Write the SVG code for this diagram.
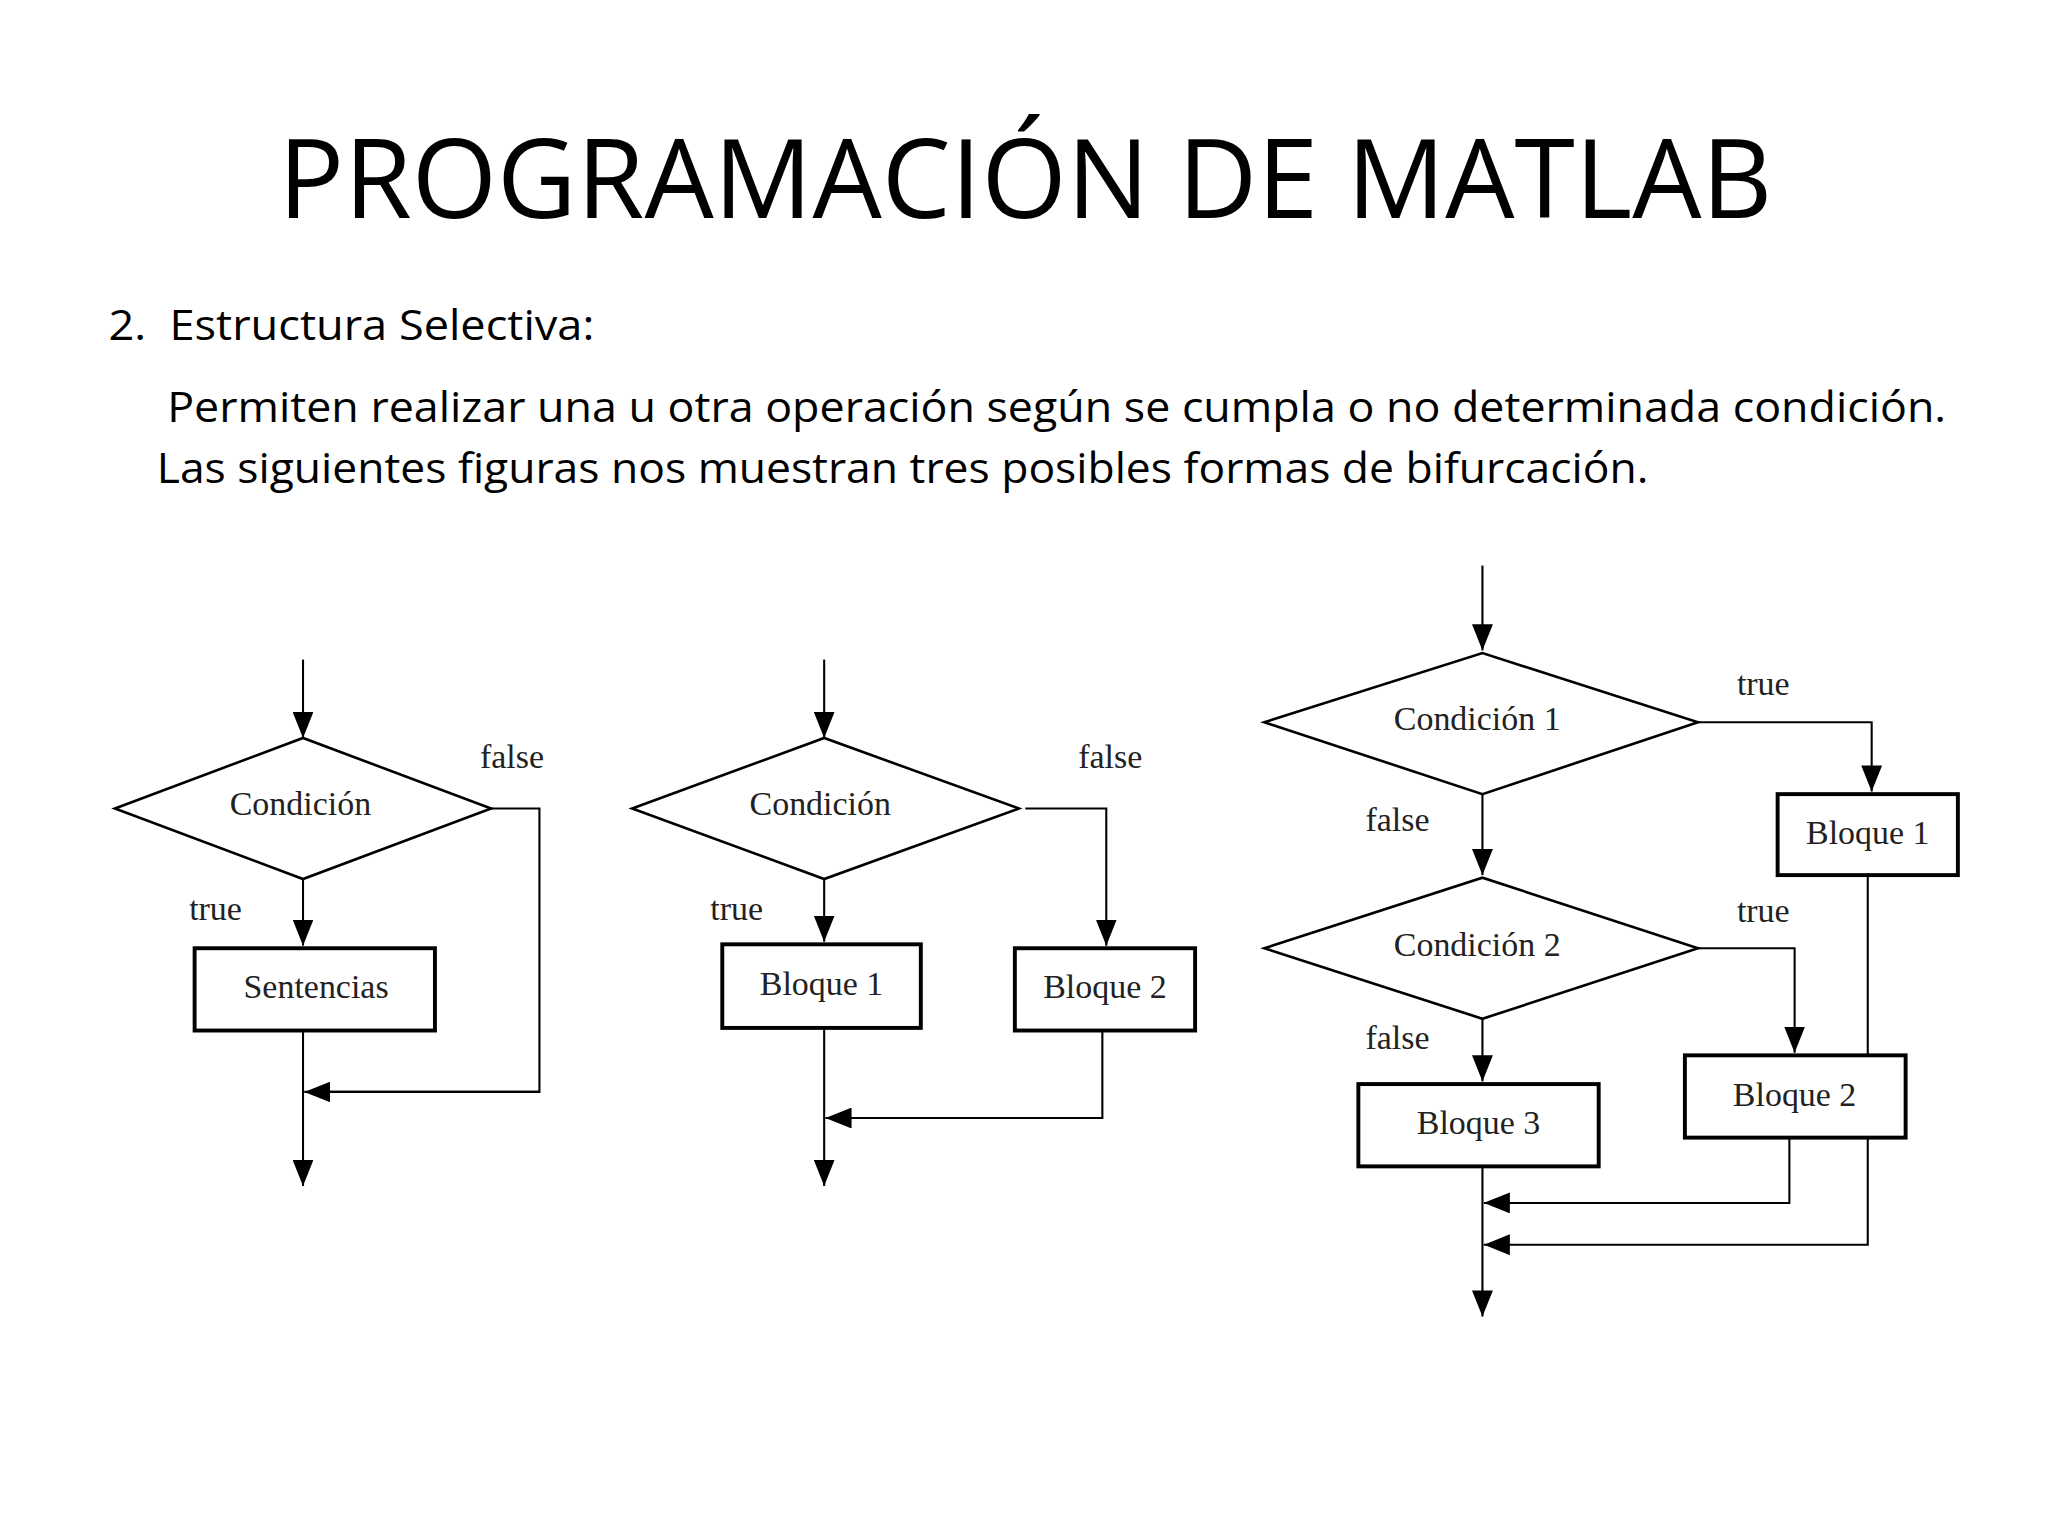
<svg xmlns="http://www.w3.org/2000/svg" width="2048" height="1536" viewBox="0 0 2048 1536">
<defs>
<marker id="ah" viewBox="0 0 20 16" refX="20" refY="8" markerWidth="20" markerHeight="16" markerUnits="userSpaceOnUse" orient="auto"><path d="M0,0 L20,8 L0,16 z" fill="#000"/></marker>
<style>
.s{font-family:"Open Sans",Lato,sans-serif;fill:#000}
.d{font-family:"Liberation Serif",serif;font-size:26px;fill:#222;text-anchor:middle}
.sh{fill:#fff;stroke:#000;stroke-width:2}
.bx{fill:#fff;stroke:#000;stroke-width:3}
.c{fill:none;stroke:#000;stroke-width:1.6;marker-end:url(#ah)}
.l{fill:none;stroke:#000;stroke-width:1.6}
</style>
</defs>
<rect width="2048" height="1536" fill="#fff"/>
<g transform="scale(1.30612)">
<text class="s" x="213" y="167" font-size="84" textLength="1144" lengthAdjust="spacingAndGlyphs">PROGRAMACIÓN DE MATLAB</text>
<text class="s" x="83" y="260" font-size="32" xml:space="preserve" textLength="372" lengthAdjust="spacingAndGlyphs">2.  Estructura Selectiva:</text>
<text class="s" x="128" y="323" font-size="32" textLength="1362" lengthAdjust="spacingAndGlyphs">Permiten realizar una u otra operación según se cumpla o no determinada condición.</text>
<text class="s" x="120" y="370" font-size="32" textLength="1142" lengthAdjust="spacingAndGlyphs">Las siguientes figuras nos muestran tres posibles formas de bifurcación.</text>

<g id="connectors">
<path class="c" d="M232,505 V565"/>
<path class="l" d="M376,619 H413 V836 H250"/>
<path class="c" d="M413,836 H233"/>
<path class="c" d="M232,673 V724"/>
<path class="c" d="M232,789 V908"/>
<path class="c" d="M631,505 V565"/>
<path class="c" d="M785,619 H847 V724"/>
<path class="c" d="M631,673 V721"/>
<path class="c" d="M844,789 V856 H632"/>
<path class="c" d="M631,787 V908"/>
<path class="c" d="M1135,433 V498"/>
<path class="c" d="M1300,553 H1433 V606"/>
<path class="c" d="M1135,608 V670"/>
<path class="c" d="M1300,726 H1374 V806"/>
<path class="c" d="M1135,780 V828"/>
<path class="c" d="M1135,893 V1008"/>
<path class="c" d="M1370,871 V921 H1136"/>
<path class="l" d="M1430,670 V808"/>
<path class="c" d="M1430,871 V953 H1136"/>
</g>

<g id="cond-a"><polygon class="sh" points="88,619 232,565 376,619 232,673"/><text class="d" x="230" y="624">Condición</text></g>
<g id="lbl-a"><text class="d" x="392" y="588">false</text><text class="d" x="165" y="704">true</text></g>
<g id="sent"><rect class="bx" x="149" y="726" width="184" height="63"/><text class="d" x="242" y="764">Sentencias</text></g>

<g id="cond-b"><polygon class="sh" points="484,619 631,565 780,619 631,673"/><text class="d" x="628" y="624">Condición</text></g>
<g id="lbl-b"><text class="d" x="850" y="588">false</text><text class="d" x="564" y="704">true</text></g>
<g id="b1"><rect class="bx" x="553" y="723" width="152" height="64"/><text class="d" x="629" y="762">Bloque 1</text></g>
<g id="b2"><rect class="bx" x="777" y="726" width="138" height="63"/><text class="d" x="846" y="764">Bloque 2</text></g>

<g id="cond1"><polygon class="sh" points="968,553 1135,500 1300,553 1135,608"/><text class="d" x="1131" y="559">Condición 1</text></g>
<g id="cond2"><polygon class="sh" points="968,726 1135,672 1300,726 1135,780"/><text class="d" x="1131" y="732">Condición 2</text></g>
<g id="lbl-c"><text class="d" x="1350" y="532">true</text><text class="d" x="1070" y="636">false</text><text class="d" x="1350" y="706">true</text><text class="d" x="1070" y="803">false</text></g>
<g id="c-b1"><rect class="bx" x="1361" y="608" width="138" height="62"/><text class="d" x="1430" y="646">Bloque 1</text></g>
<g id="c-b2"><rect class="bx" x="1290" y="808" width="169" height="63"/><text class="d" x="1374" y="847">Bloque 2</text></g>
<g id="c-b3"><rect class="bx" x="1040" y="830" width="184" height="63"/><text class="d" x="1132" y="868">Bloque 3</text></g>
</g>
</svg>
